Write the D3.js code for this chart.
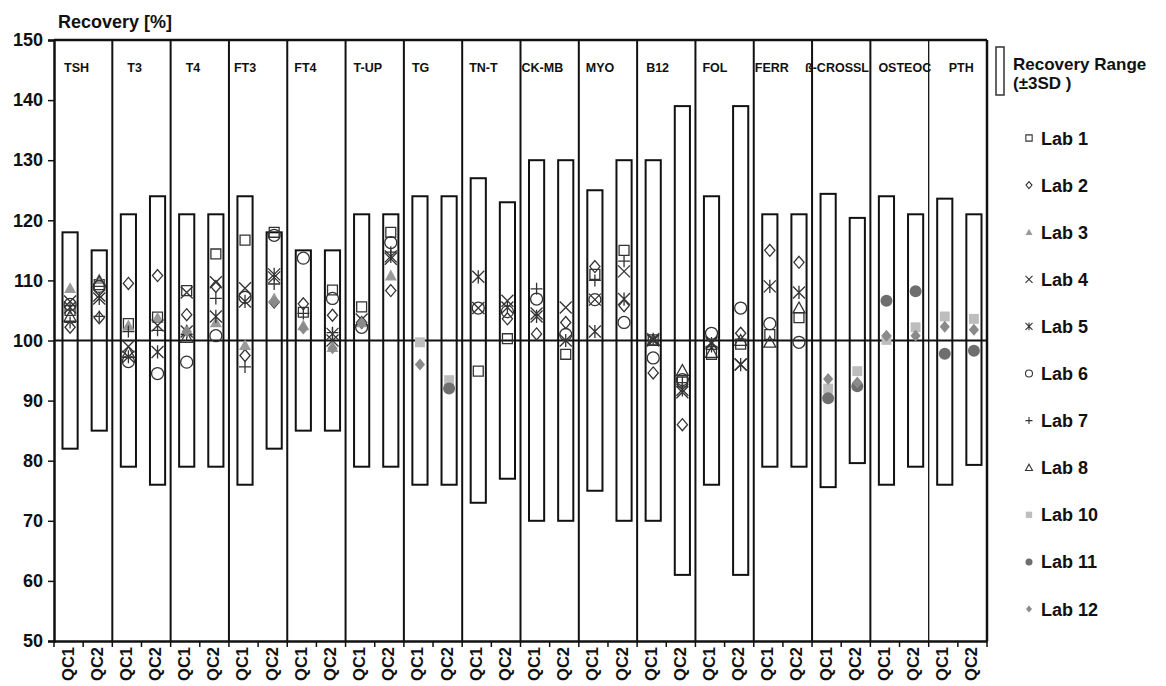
<!DOCTYPE html>
<html>
<head>
<meta charset="utf-8">
<script src="https://cdn.jsdelivr.net/npm/d3@7"></script>
<style>
  body { margin: 0; background: #fff; }
  text { font-family: "Liberation Sans", Arial, sans-serif; font-weight: bold; fill: #111; }
</style>
</head>
<body>
<div class="canvas"></div>
<script>
// data --------------------------------------------------------------
const analytes = ['TSH', 'T3', 'T4', 'FT3', 'FT4', 'T-UP', 'TG', 'TN-T', 'CK-MB', 'MYO',
                  'B12', 'FOL', 'FERR', 'ß-CROSSL', 'OSTEOC', 'PTH'];
const qcLevels = ['QC1', 'QC2'];

// recovery range (±3SD) per column, QC1/QC2 alternating
const rangeLow  = [82, 85, 79, 76, 79, 79, 76, 82, 85, 85, 79, 79, 76, 76, 73, 77,
                   70, 70, 75, 70, 70, 61, 76, 61, 79, 79, 75.6, 79.6, 76, 79, 76, 79.3];
const rangeHigh = [118, 115, 121, 124, 121, 121, 124, 118, 115, 115, 121, 121, 124, 124, 127, 123,
                   130, 130, 125, 130, 130, 139, 124, 139, 121, 121, 124.4, 120.4, 124, 121, 123.6, 121];

const labNames = ['Lab 1', 'Lab 2', 'Lab 3', 'Lab 4', 'Lab 5', 'Lab 6', 'Lab 7', 'Lab 8', 'Lab 10', 'Lab 11', 'Lab 12'];

const _ = null;
const lab1  = [105, 109.3, 102.8, 103.9, 108.3, 114.4, 116.7, 118, 104.7, 108.4, 105.6, 118, _, _, 94.9, 100.3,
               _, 97.7, 111, 115, 100.1, 93.1, 97.7, 99.4, 101, 103.8, _, _, _, _, _, _];
const lab2  = [102.2, 103.8, 109.5, 110.8, 104.3, 109, 97.5, 106.4, 106.1, 104.2, 103, 108.3, _, _, _, 103.6,
               101.1, 103, 112.3, 105.8, 94.6, 86, _, 101.2, 115, 113, _, _, _, _, _, _];
const lab3  = [108.7, 110.2, 102.5, 103.8, 101.8, 103, 99.2, 107, 102.5, 98.9, 103, 110.8, _, _, _, _,
               _, _, _, _, _, _, _, _, _, _, _, _, _, _, _, _];
const lab4  = [106.5, 107.5, 99, 102.5, 108, 109.7, 108.7, 110.5, _, 100, 103.5, 113.6, _, _, 105.4, 106.6,
               104.5, 105.5, 106.8, 111.5, 100, 91.4, 99.7, 96, _, _, _, _, _, _, _, _];
const lab5  = [105.5, 107, 97.3, 98.1, 101.5, 104, 106.5, 111, _, 101.1, _, 114, _, _, 110.6, 105.5,
               104, 100, 101.5, 106.9, 100.2, 91.8, 99.5, 96, 109, 108, _, _, _, _, _, _];
const lab6  = [106, 109, 96.5, 94.5, 96.4, 100.8, 107.2, 117.5, 113.7, 107, 102.2, 116.3, _, _, 105.4, 104.8,
               106.9, 101, 106.8, 103, 97.1, 93.5, 101.2, 105.4, 102.8, 99.7, _, _, _, _, _, _];
const lab7  = [103, 104, 101.5, 101.7, 101, 107, 95.6, 109.4, 104.5, 101.3, _, 114.7, _, _, _, _,
               108.6, _, 110, 113.2, _, 93, 99, _, _, _, _, _, _, _, _, _];
const lab8  = [104, 109.8, 98, _, 100.5, _, _, _, _, _, _, _, _, _, _, _,
               _, _, _, _, 100, 95, 98, 100, 99.7, 105.4, _, _, _, _, _, _];
const lab10 = [_, _, _, _, _, _, _, _, _, _, _, _, 99.7, 93.4, _, _,
               _, _, _, _, _, _, _, _, _, _, 92, 94.9, 100.1, 102.2, 104, 103.6];
const lab11 = [_, _, _, _, _, _, _, _, _, _, _, _, _, 92, _, _,
               _, _, _, _, _, _, _, _, _, _, 90.4, 92.4, 106.6, 108.2, 97.8, 98.3];
const lab12 = [_, _, _, _, 101.5, _, _, 106.4, 102, 98.7, 102.9, _, 96, _, _, _,
               _, _, _, _, _, _, _, _, _, _, 93.6, 93, 100.8, 100.8, 102.3, 101.8];

const labValues = [lab1, lab2, lab3, lab4, lab5, lab6, lab7, lab8, lab10, lab11, lab12];
const yTicks = [50, 60, 70, 80, 90, 100, 110, 120, 130, 140, 150];

// marker look per lab
const labStyle = [
  {shape: 'square',   fill: 'none', stroke: '#333'},
  {shape: 'diamond',  fill: 'none', stroke: '#333'},
  {shape: 'triangle', fill: '#9a9a9a', stroke: 'none'},
  {shape: 'times',    fill: 'none', stroke: '#333'},
  {shape: 'asterisk', fill: 'none', stroke: '#333'},
  {shape: 'circle',   fill: 'none', stroke: '#333'},
  {shape: 'plus',     fill: 'none', stroke: '#333'},
  {shape: 'triangle', fill: 'none', stroke: '#333'},
  {shape: 'square',   fill: '#bdbdbd', stroke: 'none'},
  {shape: 'circle',   fill: '#6e6e6e', stroke: 'none'},
  {shape: 'diamond',  fill: '#8a8a8a', stroke: 'none'}
];

// small nudges for the analyte names at the top of each block
const nameNudge = [10, 15, 15, 5, 7, 8, 8, 7, 1, 7, 9, 7, 1, -7, 8, 20];

// marker path generator, s is the full size in px
const markerPath = (shape, s) => {
  const h = s / 2;
  switch (shape) {
    case 'square':   return `M${-h * 0.9},${-h * 0.9}H${h * 0.9}V${h * 0.9}H${-h * 0.9}Z`;
    case 'diamond':  return `M0,${-h}L${h * 0.85},0L0,${h}L${-h * 0.85},0Z`;
    case 'triangle': return `M0,${-h}L${h},${h * 0.8}L${-h},${h * 0.8}Z`;
    case 'times':    return `M${-h},${-h}L${h},${h}M${h},${-h}L${-h},${h}`;
    case 'asterisk': return `M${-h},${-h}L${h},${h}M${h},${-h}L${-h},${h}M0,${-h * 1.1}V${h * 1.1}`;
    case 'plus':     return `M${-h},0H${h}M0,${-h}V${h}`;
    case 'circle':   return d3.arc()({innerRadius: 0, outerRadius: h, startAngle: 0, endAngle: 2 * Math.PI});
  }
};

// SVG SETUP -------------------------------------------------------
const width = 1166, height = 686;
const svg = d3.select('.canvas').append('svg')
  .attr('width', width).attr('height', height);

const columns = analytes.flatMap(a => qcLevels.map(q => a + '|' + q));

const x = d3.scaleBand().domain(columns).range([54, 987]).padding(0);
const y = d3.scaleLinear().domain([50, 150]).range([641, 40]);
const barW = x.bandwidth() * 0.52;

// title
svg.append('text').attr('x', 58).attr('y', 28)
  .style('font-size', '18px').text('Recovery [%]');

// range bars
svg.append('g').selectAll('rect')
  .data(columns)
  .join('rect')
  .attr('x', d => x(d) + x.bandwidth() / 2 - barW / 2 + 1.5)
  .attr('y', (d, i) => y(rangeHigh[i]))
  .attr('width', barW)
  .attr('height', (d, i) => y(rangeLow[i]) - y(rangeHigh[i]))
  .attr('fill', '#fff').attr('stroke', '#111').attr('stroke-width', 2);

// analyte block dividers
svg.append('g').selectAll('line')
  .data(analytes.slice(1))
  .join('line')
  .attr('x1', a => x(a + '|QC1')).attr('x2', a => x(a + '|QC1'))
  .attr('y1', y(150)).attr('y2', y(50))
  .attr('stroke', '#111').attr('stroke-width', a => a === 'PTH' ? 1.3 : 2);

// analyte names
svg.append('g').selectAll('text')
  .data(analytes)
  .join('text')
  .attr('x', (a, i) => x(a + '|QC1') + nameNudge[i])
  .attr('y', 72)
  .style('font-size', '12.5px')
  .text(a => a);

// frame: top and right
svg.append('line').attr('x1', x.range()[0]).attr('x2', x.range()[1])
  .attr('y1', y(150)).attr('y2', y(150)).attr('stroke', '#111').attr('stroke-width', 2.5);
svg.append('line').attr('x1', x.range()[1]).attr('x2', x.range()[1])
  .attr('y1', y(150)).attr('y2', y(50)).attr('stroke', '#111').attr('stroke-width', 2.5);

// 100 % reference line
svg.append('line').attr('x1', x.range()[0]).attr('x2', x.range()[1])
  .attr('y1', y(100)).attr('y2', y(100)).attr('stroke', '#111').attr('stroke-width', 2);

// y axis
const yAxisGroup = svg.append('g').attr('transform', `translate(${x.range()[0]},0)`)
  .call(d3.axisLeft(y).tickValues(yTicks).tickSize(6).tickPadding(5));
yAxisGroup.select('.domain').attr('stroke', '#111').attr('stroke-width', 2.5);
yAxisGroup.selectAll('.tick line').attr('stroke', '#111').attr('stroke-width', 1.5);
yAxisGroup.selectAll('text').style('font-size', '18px').style('font-family', null).attr('fill', '#111');

// x axis: labels centred in columns, ticks on column boundaries
const xAxisGroup = svg.append('g').attr('transform', `translate(0,${y(50)})`)
  .call(d3.axisBottom(x).tickSize(0).tickFormat(d => d.split('|')[1]));
xAxisGroup.select('.domain').attr('stroke', '#111').attr('stroke-width', 2.5);
xAxisGroup.selectAll('text')
  .style('font-size', '16.5px').style('font-family', null).attr('fill', '#111')
  .attr('transform', 'rotate(-90)')
  .attr('text-anchor', 'end')
  .attr('x', -6).attr('y', -1).attr('dy', '0.36em')
  .attr('dx', 0);
xAxisGroup.selectAll('.tickmark')
  .data(columns.concat(['end']))
  .join('line')
  .attr('class', 'tickmark')
  .attr('x1', d => d === 'end' ? x.range()[1] : x(d))
  .attr('x2', d => d === 'end' ? x.range()[1] : x(d))
  .attr('y1', 0).attr('y2', 6)
  .attr('stroke', '#111').attr('stroke-width', 1.5);

// lab markers
labValues.forEach((vals, li) => {
  const st = labStyle[li];
  svg.append('g').selectAll('path')
    .data(vals.map((v, i) => ({v, col: columns[i]})).filter(d => d.v !== null))
    .join('path')
    .attr('transform', d => `translate(${x(d.col) + x.bandwidth() / 2 + 1.5},${y(d.v)})`)
    .attr('d', markerPath(st.shape, st.shape === 'square' ? 11 : 12))
    .attr('fill', st.fill)
    .attr('stroke', st.stroke)
    .attr('stroke-width', 1.3);
});

// LEGEND -----------------------------------------------------------
const legend = svg.append('g');
legend.append('rect').attr('x', 996).attr('y', 47).attr('width', 8).attr('height', 48)
  .attr('fill', '#fff').attr('stroke', '#333').attr('stroke-width', 1.5);
legend.append('text').attr('x', 1013).attr('y', 70).style('font-size', '17px').text('Recovery Range');
legend.append('text').attr('x', 1013).attr('y', 89).style('font-size', '17px').text('(±3SD )');

const legendRows = legend.selectAll('.row')
  .data(labNames)
  .join('g')
  .attr('class', 'row')
  .attr('transform', (d, i) => `translate(1029,${138 + i * 47.1})`);

legendRows.append('path')
  .attr('d', (d, i) => markerPath(labStyle[i].shape, 7))
  .attr('fill', (d, i) => labStyle[i].fill)
  .attr('stroke', (d, i) => labStyle[i].stroke)
  .attr('stroke-width', 1.1);

legendRows.append('text')
  .attr('x', 12).attr('y', 6.5)
  .style('font-size', '18px')
  .text(d => d);
</script>
</body>
</html>
